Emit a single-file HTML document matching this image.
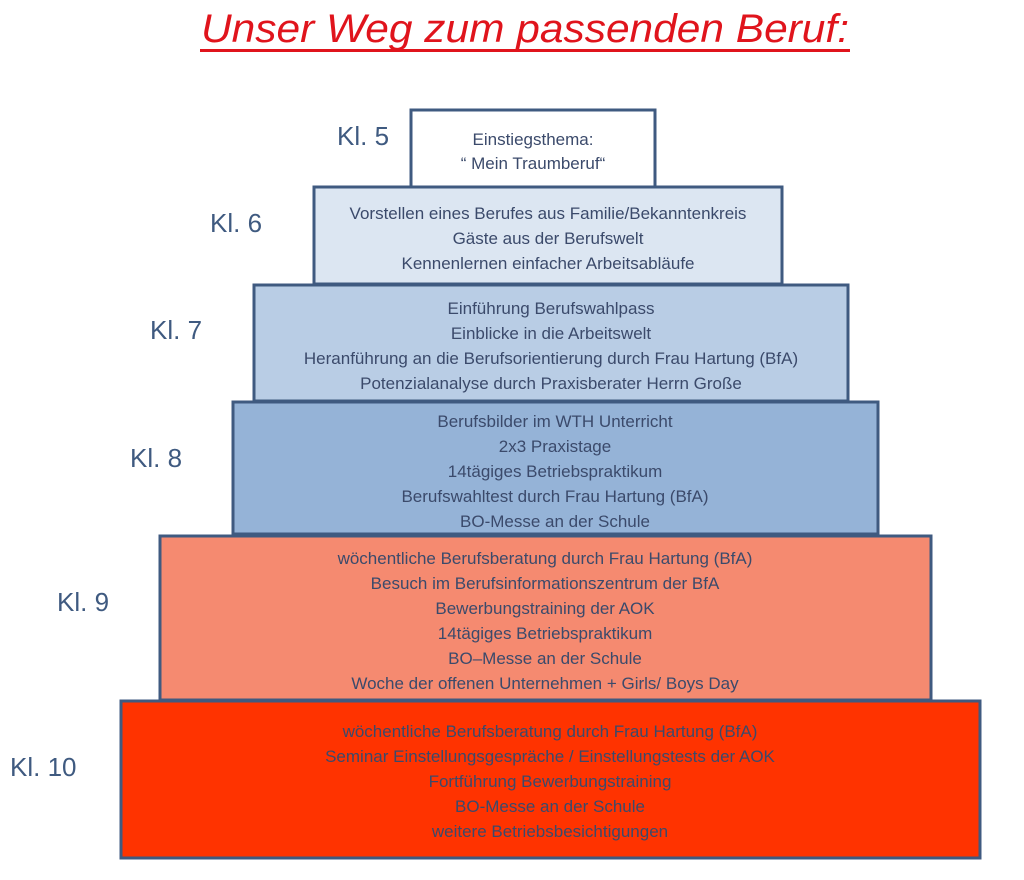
<!DOCTYPE html>
<html><head><meta charset="utf-8"><style>
html,body{margin:0;padding:0;background:#fff;}
svg{display:block;}
.t{font-family:"Liberation Sans",sans-serif;font-size:17px;fill:#3b4a6b;text-anchor:middle;}
.k{font-family:"Liberation Sans",sans-serif;font-size:26px;fill:#3f5a80;}
rect.b{stroke:#3f5a80;stroke-width:3;}
</style></head><body>
<svg width="1024" height="880" viewBox="0 0 1024 880">
<text x="525" y="42" font-family="Liberation Sans, sans-serif" font-style="italic" font-size="40" fill="#e0141c" text-anchor="middle" textLength="648" lengthAdjust="spacingAndGlyphs">Unser Weg zum passenden Beruf:</text>
<rect x="200" y="49" width="650" height="3" fill="#e0141c"/>

<rect class="b" x="411" y="110" width="244" height="77" fill="#ffffff"/>
<rect class="b" x="314" y="187" width="468" height="97" fill="#dce6f2"/>
<rect class="b" x="254" y="285" width="594" height="116" fill="#b9cde5"/>
<rect class="b" x="233" y="402" width="645" height="132" fill="#95b3d7"/>
<rect class="b" x="160" y="536" width="771" height="164" fill="#f58a70"/>
<rect class="b" x="121" y="701" width="859" height="157" fill="#ff3300"/>

<text class="k" x="337" y="145">Kl. 5</text>
<text class="k" x="210" y="232">Kl. 6</text>
<text class="k" x="150" y="339">Kl. 7</text>
<text class="k" x="130" y="467">Kl. 8</text>
<text class="k" x="57" y="611">Kl. 9</text>
<text class="k" x="10" y="776">Kl. 10</text>

<text class="t" x="533" y="145">Einstiegsthema:</text>
<text class="t" x="533" y="169">“ Mein Traumberuf“</text>

<text class="t" x="548" y="219">Vorstellen eines Berufes aus Familie/Bekanntenkreis</text>
<text class="t" x="548" y="244">Gäste aus der Berufswelt</text>
<text class="t" x="548" y="269">Kennenlernen einfacher Arbeitsabläufe</text>

<text class="t" x="551" y="314">Einführung Berufswahlpass</text>
<text class="t" x="551" y="339">Einblicke in die Arbeitswelt</text>
<text class="t" x="551" y="364">Heranführung an die Berufsorientierung durch Frau Hartung (BfA)</text>
<text class="t" x="551" y="389">Potenzialanalyse durch Praxisberater Herrn Große</text>

<text class="t" x="555" y="427">Berufsbilder im WTH Unterricht</text>
<text class="t" x="555" y="452">2x3 Praxistage</text>
<text class="t" x="555" y="477">14tägiges Betriebspraktikum</text>
<text class="t" x="555" y="502">Berufswahltest durch Frau Hartung (BfA)</text>
<text class="t" x="555" y="527">BO-Messe an der Schule</text>

<text class="t" x="545" y="564">wöchentliche Berufsberatung durch Frau Hartung (BfA)</text>
<text class="t" x="545" y="589">Besuch im Berufsinformationszentrum der BfA</text>
<text class="t" x="545" y="614">Bewerbungstraining  der AOK</text>
<text class="t" x="545" y="639">14tägiges Betriebspraktikum</text>
<text class="t" x="545" y="664">BO–Messe an der Schule</text>
<text class="t" x="545" y="689">Woche der offenen Unternehmen + Girls/ Boys Day</text>

<text class="t" x="550" y="737">wöchentliche Berufsberatung durch Frau Hartung (BfA)</text>
<text class="t" x="550" y="762">Seminar Einstellungsgespräche / Einstellungstests der AOK</text>
<text class="t" x="550" y="787">Fortführung Bewerbungstraining</text>
<text class="t" x="550" y="812">BO-Messe an der Schule</text>
<text class="t" x="550" y="837">weitere Betriebsbesichtigungen</text>
</svg>
</body></html>
